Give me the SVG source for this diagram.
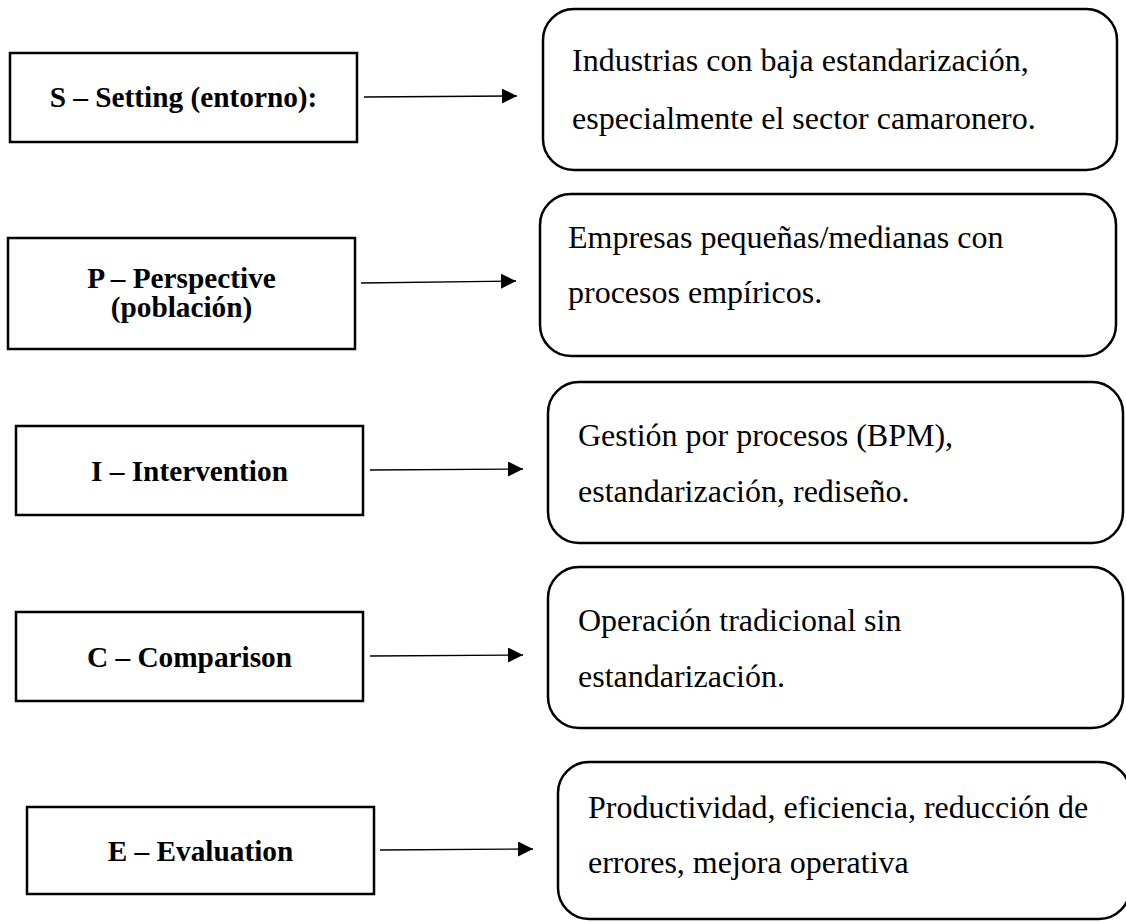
<svg xmlns="http://www.w3.org/2000/svg" width="1126" height="922" viewBox="0 0 1126 922">
  <style>
    .label { fill: #fff; stroke: #000; stroke-width: 2.5; }
    .desc { fill: #fff; stroke: #000; stroke-width: 2.5; }
    .title { font-family: 'Liberation Serif', 'DejaVu Serif', serif; font-weight: bold; font-size: 29.3px; fill: #000; text-anchor: middle; }
    .body { font-family: 'Liberation Serif', 'DejaVu Serif', serif; font-size: 32px; fill: #000; }
    .link { stroke: #000; stroke-width: 1.4; fill: none; marker-end: url(#head); }
  </style>
  <defs>
    <marker id="head" markerUnits="userSpaceOnUse" markerWidth="16" markerHeight="16" refX="15" refY="7.5" orient="auto">
      <path d="M0,0 L15,7.5 L0,15 Z" fill="#000"/>
    </marker>
  </defs>
  <rect width="1126" height="922" fill="#fff"/>

  <!-- S: setting -->
  <g id="node-s">
    <rect class="label" x="10" y="53" width="347" height="89"/>
    <text class="title" x="183.5" y="107">S – Setting (entorno):</text>
  </g>
  <g id="node-s-desc">
    <rect class="desc" x="543" y="9" width="574" height="161" rx="31" ry="31"/>
    <text class="body" x="572" y="71">Industrias con baja estandarización,</text>
    <text class="body" x="572" y="129">especialmente el sector camaronero.</text>
  </g>

  <!-- P: perspective -->
  <g id="node-p">
    <rect class="label" x="8" y="238" width="347" height="111"/>
    <text class="title" x="181.5" y="288">P – Perspective</text>
    <text class="title" x="181.5" y="317">(población)</text>
  </g>
  <g id="node-p-desc">
    <rect class="desc" x="540" y="194" width="576" height="162" rx="31" ry="31"/>
    <text class="body" x="568" y="248">Empresas pequeñas/medianas con</text>
    <text class="body" x="568" y="303">procesos empíricos.</text>
  </g>

  <!-- I: intervention -->
  <g id="node-i">
    <rect class="label" x="16" y="426" width="347" height="89"/>
    <text class="title" x="189.5" y="481">I – Intervention</text>
  </g>
  <g id="node-i-desc">
    <rect class="desc" x="548" y="382" width="575" height="161" rx="31" ry="31"/>
    <text class="body" x="578" y="446">Gestión por procesos (BPM),</text>
    <text class="body" x="578" y="502">estandarización, rediseño.</text>
  </g>

  <!-- C: comparison -->
  <g id="node-c">
    <rect class="label" x="16" y="612" width="347" height="89"/>
    <text class="title" x="189.5" y="667">C – Comparison</text>
  </g>
  <g id="node-c-desc">
    <rect class="desc" x="548" y="567" width="575" height="161" rx="31" ry="31"/>
    <text class="body" x="578" y="631">Operación tradicional sin</text>
    <text class="body" x="578" y="687">estandarización.</text>
  </g>

  <!-- E: evaluation -->
  <g id="node-e">
    <rect class="label" x="27" y="807" width="347" height="87"/>
    <text class="title" x="200.5" y="861">E – Evaluation</text>
  </g>
  <g id="node-e-desc">
    <rect class="desc" x="558" y="762" width="572" height="157" rx="31" ry="31"/>
    <text class="body" x="588" y="818">Productividad, eficiencia, reducción de</text>
    <text class="body" x="588" y="873">errores, mejora operativa</text>
  </g>

  <!-- connectors -->
  <g id="connectors">
    <line class="link" x1="364" y1="97" x2="517" y2="96"/>
    <line class="link" x1="361" y1="283" x2="516" y2="281"/>
    <line class="link" x1="370" y1="470" x2="523" y2="469"/>
    <line class="link" x1="370" y1="656" x2="523" y2="655"/>
    <line class="link" x1="380" y1="850" x2="533" y2="849"/>
  </g>
</svg>
